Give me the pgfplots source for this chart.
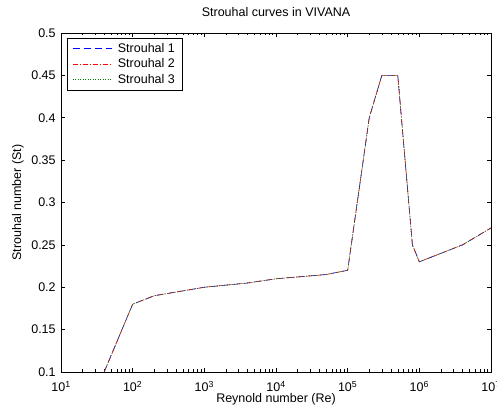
\documentclass[border=0pt]{standalone}
\usepackage{fontspec}
\setmainfont{Liberation Sans}
\usepackage{pgfplots}
\pgfplotsset{compat=1.18}
\definecolor{mblue}{rgb}{0,0,1}
\definecolor{mred}{rgb}{1,0,0}
\definecolor{mgreen}{rgb}{0,0.5,0}
\begin{document}
\fontsize{12.5}{15}\selectfont
\begin{tikzpicture}[font=\fontsize{12.5}{15}\selectfont]
\begin{axis}[
  name=ax,
  scale only axis,
  width=430pt, height=339pt,
  xmode=log,
  xmin=10, xmax=1e7,
  ymin=0.1, ymax=0.5,
  xtick={10,100,1000,10000,100000,1000000,10000000},
  xticklabels={10\textsuperscript{1},10\textsuperscript{2},10\textsuperscript{3},10\textsuperscript{4},10\textsuperscript{5},10\textsuperscript{6},10\textsuperscript{7}},
  ytick={0.1,0.15,0.2,0.25,0.3,0.35,0.4,0.45,0.5},
  yticklabels={0.1,0.15,0.2,0.25,0.3,0.35,0.4,0.45,0.5},
  tick align=inside,
  major tick length=4pt,
  minor tick length=2.5pt,
  tick style={black, line width=0.5pt},
  axis line style={line width=0.6pt},
  every tick label/.append style={font=\fontsize{12.5}{15}\selectfont},
  xticklabel style={anchor=base, yshift=-20pt},
  yticklabel style={anchor=east, xshift=-1pt},
  title={Strouhal curves in VIVANA},
  title style={at={(axis description cs:0.5,1)}, anchor=base, yshift=10pt, font=\fontsize{12.5}{15}\selectfont},
  xlabel={Reynold number (Re)},
  xlabel style={at={(axis description cs:0.5,0)}, anchor=base, yshift=-31pt, font=\fontsize{12.5}{15}\selectfont},
  ylabel={Strouhal number (St)},
  ylabel style={at={(axis description cs:-0.1,0.5)}, anchor=center, font=\fontsize{12.5}{15}\selectfont},
  legend style={at={(axis description cs:0,1)}, anchor=north west, xshift=6pt, yshift=-5pt,
    draw=black, line width=0.6pt, font=\fontsize{12.5}{15}\selectfont,
    row sep=0.5pt, inner xsep=5pt, inner ysep=3pt,
    /tikz/every odd column/.append style={column sep=4pt}},
  legend cell align=left,
  legend image code/.code={\draw[#1, line width=0.6pt] (0pt,0pt) -- (39pt,0pt);},
]
\addplot[mblue, line width=0.6pt, dash pattern=on 7pt off 4pt] coordinates {
 (40,0.1) (100,0.18) (200,0.19) (1000,0.2) (4000,0.205) (10000,0.21) (50000,0.215) (100000,0.22)
 (200000,0.4) (300000,0.45) (500000,0.45) (800000,0.25) (1000000,0.23) (4000000,0.25) (10000000,0.27)};
\addlegendentry{Strouhal 1}
\addplot[mred, line width=0.6pt, dash pattern=on 5pt off 2pt on 1pt off 2pt] coordinates {
 (40,0.1) (100,0.18) (200,0.19) (1000,0.2) (4000,0.205) (10000,0.21) (50000,0.215) (100000,0.22)
 (200000,0.4) (300000,0.45) (500000,0.45) (800000,0.25) (1000000,0.23) (4000000,0.25) (10000000,0.27)};
\addlegendentry{Strouhal 2}
\addplot[mgreen, line width=0.6pt, dash pattern=on 1pt off 1.5pt] coordinates {
 (40,0.1) (100,0.18) (200,0.19) (1000,0.2) (4000,0.205) (10000,0.21) (50000,0.215) (100000,0.22)
 (200000,0.4) (300000,0.45) (500000,0.45) (800000,0.25) (1000000,0.23) (4000000,0.25) (10000000,0.27)};
\addlegendentry{Strouhal 3}
\end{axis}
\pgfresetboundingbox
\useasboundingbox ([shift={(-61pt,-39pt)}]ax.south west) rectangle ([shift={(6pt,33pt)}]ax.north east);
\end{tikzpicture}
\end{document}
